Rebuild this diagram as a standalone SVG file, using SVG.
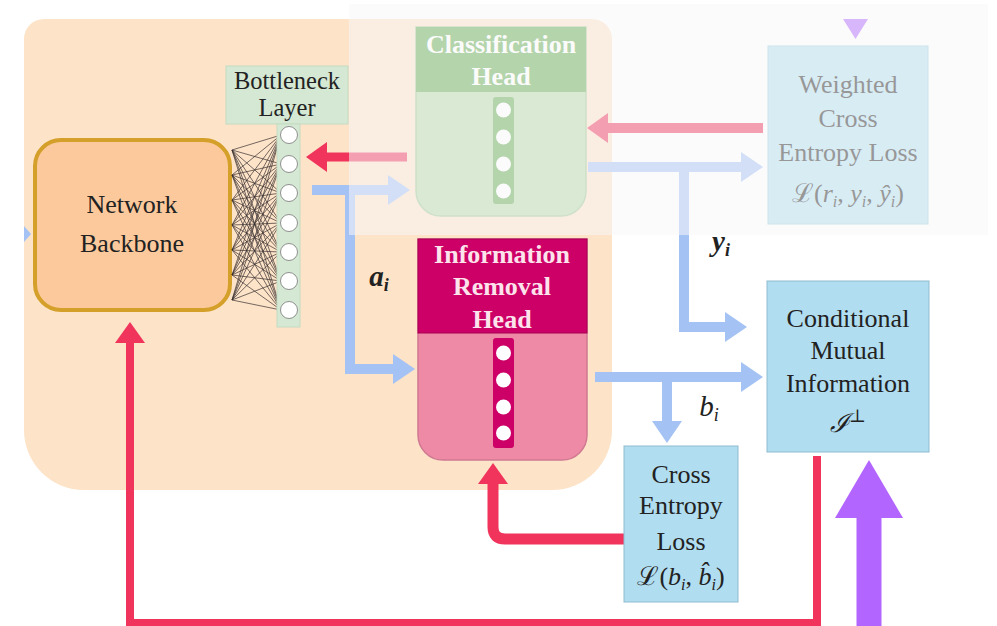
<svg xmlns="http://www.w3.org/2000/svg" width="997" height="626" viewBox="0 0 997 626">
<style>
.t{font-family:"Liberation Serif","DejaVu Serif",serif;font-size:26px;fill:#222;text-anchor:middle}
.hd{font-weight:bold;fill:#fde3ec}
.hg{font-weight:bold;fill:#ffffff}
.i{font-style:italic}
.sub{font-size:16px;font-style:italic}
.lb{font-size:29px}
.lbs{font-size:18px;font-style:italic}
.bn{font-size:24.5px}
.circ{fill:#fff;stroke:#777;stroke-width:0.8}
.wc{fill:#fff}
.net line{stroke:#3a3030;stroke-width:0.7}
.bl{fill:none;stroke:#a4c2f4;stroke-width:10}
.rd{fill:none;stroke:#f0345c}
</style>
<defs>
<marker id="hb" markerUnits="userSpaceOnUse" markerWidth="22" markerHeight="30" viewBox="0 0 22 30" refX="0" refY="15" orient="auto"><path d="M0,0 L22,15 L0,30 Z" fill="#a4c2f4"/></marker>
<marker id="hr" markerUnits="userSpaceOnUse" markerWidth="21" markerHeight="30" viewBox="0 0 21 30" refX="0" refY="15" orient="auto"><path d="M0,0 L21,15 L0,30 Z" fill="#f0345c"/></marker>
<marker id="hp" markerUnits="userSpaceOnUse" markerWidth="58" markerHeight="68" viewBox="0 0 58 68" refX="0" refY="34" orient="auto"><path d="M0,0 L58,34 L0,68 Z" fill="#b266ff"/></marker>
</defs>

<g id="container">
<path d="M44,19 H592 A20,20 0 0 1 612,39 V430 A60,60 0 0 1 552,490 H84 A60,60 0 0 1 24,430 V39 A20,20 0 0 1 44,19 Z" fill="#fde3c8"/>
</g>

<g id="connectors">
<polygon points="24,226 31,234 24,242" fill="#a4c2f4"/>
<path class="rd" stroke-width="9" d="M407,157 H327" marker-end="url(#hr)"/>
<path class="bl" d="M312,190 H388" marker-end="url(#hb)"/>
<path class="bl" d="M350,185 V369 H393" marker-end="url(#hb)"/>
<path class="rd" stroke-width="10" d="M763,128 H608" marker-end="url(#hr)"/>
<path class="bl" d="M588,167 H741" marker-end="url(#hb)"/>
<path class="bl" d="M684,162 V327 H725" marker-end="url(#hb)"/>
<path class="bl" d="M595,377 H741" marker-end="url(#hb)"/>
<path class="bl" d="M667,372 V421" marker-end="url(#hb)"/>
<path class="rd" stroke-width="11" d="M624,539 H505 Q493,539 493,527 V484" marker-end="url(#hr)"/>
<path class="rd" stroke-width="8" d="M817,456 V623 H130 V343" marker-end="url(#hr)"/>
<path fill="none" stroke="#b266ff" stroke-width="25" d="M869,630 V518" marker-end="url(#hp)"/>
<polygon points="843,19 868,19 855.5,39" fill="#b266ff"/>
</g>

<g id="network-backbone">
<rect x="35" y="140" width="195" height="170" rx="26" fill="#fcc99c" stroke="#d4a02a" stroke-width="4"/>
<text class="t" x="132" y="213">Network</text>
<text class="t" x="132" y="252">Backbone</text>
</g>

<g id="bottleneck-layer">
<g class="net">
<line x1="232" y1="150" x2="281" y2="135"/><line x1="232" y1="150" x2="281" y2="164"/><line x1="232" y1="150" x2="281" y2="193"/><line x1="232" y1="150" x2="281" y2="223"/><line x1="232" y1="150" x2="281" y2="252"/><line x1="232" y1="150" x2="281" y2="281"/><line x1="232" y1="150" x2="281" y2="310"/>
<line x1="232" y1="175" x2="281" y2="135"/><line x1="232" y1="175" x2="281" y2="164"/><line x1="232" y1="175" x2="281" y2="193"/><line x1="232" y1="175" x2="281" y2="223"/><line x1="232" y1="175" x2="281" y2="252"/><line x1="232" y1="175" x2="281" y2="281"/><line x1="232" y1="175" x2="281" y2="310"/>
<line x1="232" y1="200" x2="281" y2="135"/><line x1="232" y1="200" x2="281" y2="164"/><line x1="232" y1="200" x2="281" y2="193"/><line x1="232" y1="200" x2="281" y2="223"/><line x1="232" y1="200" x2="281" y2="252"/><line x1="232" y1="200" x2="281" y2="281"/><line x1="232" y1="200" x2="281" y2="310"/>
<line x1="232" y1="225" x2="281" y2="135"/><line x1="232" y1="225" x2="281" y2="164"/><line x1="232" y1="225" x2="281" y2="193"/><line x1="232" y1="225" x2="281" y2="223"/><line x1="232" y1="225" x2="281" y2="252"/><line x1="232" y1="225" x2="281" y2="281"/><line x1="232" y1="225" x2="281" y2="310"/>
<line x1="232" y1="250" x2="281" y2="135"/><line x1="232" y1="250" x2="281" y2="164"/><line x1="232" y1="250" x2="281" y2="193"/><line x1="232" y1="250" x2="281" y2="223"/><line x1="232" y1="250" x2="281" y2="252"/><line x1="232" y1="250" x2="281" y2="281"/><line x1="232" y1="250" x2="281" y2="310"/>
<line x1="232" y1="275" x2="281" y2="135"/><line x1="232" y1="275" x2="281" y2="164"/><line x1="232" y1="275" x2="281" y2="193"/><line x1="232" y1="275" x2="281" y2="223"/><line x1="232" y1="275" x2="281" y2="252"/><line x1="232" y1="275" x2="281" y2="281"/><line x1="232" y1="275" x2="281" y2="310"/>
<line x1="232" y1="300" x2="281" y2="135"/><line x1="232" y1="300" x2="281" y2="164"/><line x1="232" y1="300" x2="281" y2="193"/><line x1="232" y1="300" x2="281" y2="223"/><line x1="232" y1="300" x2="281" y2="252"/><line x1="232" y1="300" x2="281" y2="281"/><line x1="232" y1="300" x2="281" y2="310"/>
</g>
<rect x="226" y="66" width="122" height="58" fill="#d5e8d4" stroke="#c3dcc1" stroke-width="1"/>
<text class="t bn" x="287" y="89">Bottleneck</text>
<text class="t bn" x="287" y="116">Layer</text>
<rect x="277" y="124" width="23" height="203" fill="#d5e8d4" stroke="#c3dcc1" stroke-width="1"/>
<circle class="circ" cx="289" cy="135" r="8.5"/>
<circle class="circ" cx="289" cy="164" r="8.5"/>
<circle class="circ" cx="289" cy="193" r="8.5"/>
<circle class="circ" cx="289" cy="223" r="8.5"/>
<circle class="circ" cx="289" cy="252" r="8.5"/>
<circle class="circ" cx="289" cy="281" r="8.5"/>
<circle class="circ" cx="289" cy="310" r="8.5"/>
</g>

<g id="classification-head">
<path d="M416,27 H586 V191 A25,25 0 0 1 561,216 H441 A25,25 0 0 1 416,191 Z" fill="#b6d7a8" stroke="#9cc490" stroke-width="1.5"/>
<rect x="416" y="27" width="170" height="65" fill="#62a84f"/>
<text class="t hg" x="501" y="53">Classification</text>
<text class="t hg" x="501" y="85">Head</text>
<rect x="493" y="97" width="21" height="107" rx="3" fill="#62a84f"/>
<circle class="wc" cx="503.5" cy="110" r="7.5"/>
<circle class="wc" cx="503.5" cy="137" r="7.5"/>
<circle class="wc" cx="503.5" cy="164" r="7.5"/>
<circle class="wc" cx="503.5" cy="191" r="7.5"/>
</g>

<g id="weighted-ce-loss">
<rect x="768" y="46" width="160" height="178" fill="#b1ddf0" stroke="#9ccbe0"/>
<text class="t" x="848" y="93">Weighted</text>
<text class="t" x="848" y="127">Cross</text>
<text class="t" x="848" y="161">Entropy Loss</text>
<text class="t" x="848" y="202">ℒ(<tspan class="i">r</tspan><tspan class="sub" dy="5">i</tspan><tspan dy="-5">, </tspan><tspan class="i">y</tspan><tspan class="sub" dy="5">i</tspan><tspan dy="-5">, </tspan><tspan class="i">ŷ</tspan><tspan class="sub" dy="5">i</tspan><tspan dy="-5">)</tspan></text>
</g>

<g id="fade-overlay">
<rect x="349" y="4" width="639" height="231" fill="#f7f7f7" opacity="0.55"/>
</g>

<g id="information-removal-head">
<path d="M418,239 H587 V435 A25,25 0 0 1 562,460 H443 A25,25 0 0 1 418,435 Z" fill="#ef8aa6" stroke="#d07a92" stroke-width="1.5"/>
<rect x="418" y="239" width="169" height="94" fill="#cc0066" stroke="#a8004f" stroke-width="1"/>
<text class="t hd" x="502" y="263">Information</text>
<text class="t hd" x="502" y="295">Removal</text>
<text class="t hd" x="502" y="328">Head</text>
<rect x="493" y="338" width="21" height="110" rx="3" fill="#cc0066"/>
<circle class="wc" cx="503.5" cy="353" r="7.5"/>
<circle class="wc" cx="503.5" cy="380" r="7.5"/>
<circle class="wc" cx="503.5" cy="407" r="7.5"/>
<circle class="wc" cx="503.5" cy="433" r="7.5"/>
</g>

<g id="conditional-mutual-information">
<rect x="767" y="281" width="162" height="171" fill="#b1ddf0" stroke="#8fbbd0"/>
<text class="t" x="848" y="327">Conditional</text>
<text class="t" x="848" y="359">Mutual</text>
<text class="t" x="848" y="392">Information</text>
<text class="t" x="848" y="432"><tspan class="i">ℐ</tspan><tspan class="lbs" style="font-style:normal" dy="-10">⊥</tspan></text>
</g>

<g id="cross-entropy-loss">
<rect x="624" y="446" width="114" height="156" fill="#b1ddf0" stroke="#8fbbd0"/>
<text class="t" x="681" y="483">Cross</text>
<text class="t" x="681" y="514">Entropy</text>
<text class="t" x="681" y="550">Loss</text>
<text class="t" x="681" y="585">ℒ(<tspan class="i">b</tspan><tspan class="sub" dy="5">i</tspan><tspan dy="-5">, </tspan><tspan class="i">b̂</tspan><tspan class="sub" dy="5">i</tspan><tspan dy="-5">)</tspan></text>
</g>

<g id="labels">
<text class="t i lb" x="379" y="286" style="font-weight:bold">a<tspan class="lbs" style="font-weight:bold" dy="5">i</tspan></text>
<text class="t i lb" x="721" y="251" style="font-weight:bold">y<tspan class="lbs" style="font-weight:bold" dy="5">i</tspan></text>
<text class="t i lb" x="709" y="416">b<tspan class="lbs" dy="5">i</tspan></text>
</g>
</svg>
